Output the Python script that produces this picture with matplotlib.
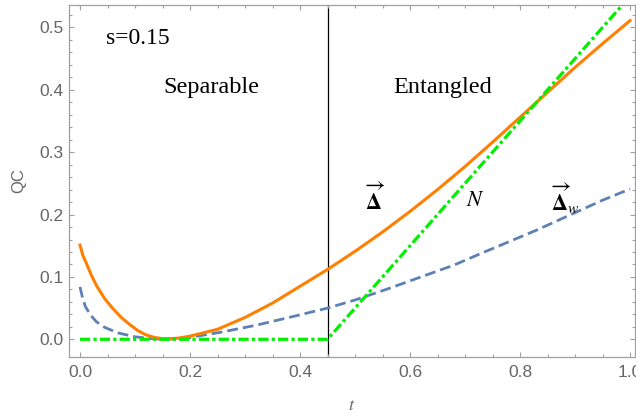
import matplotlib
matplotlib.use("Agg")
import matplotlib.pyplot as plt

# --- data (s = 0.15) ---
t_disc = [0.0, 0.005, 0.012, 0.02, 0.03, 0.045, 0.06, 0.075, 0.09, 0.105, 0.12, 0.135,
          0.15, 0.165, 0.18, 0.20, 0.25, 0.30, 0.35, 0.40, 0.45, 0.50, 0.55, 0.60,
          0.65, 0.70, 0.75, 0.80, 0.85, 0.90, 0.95, 1.0]
disc = [0.151, 0.135, 0.121, 0.104, 0.086, 0.065, 0.049, 0.035, 0.024, 0.014, 0.007, 0.003,
        0.001, 0.001, 0.002, 0.005, 0.016, 0.035, 0.058, 0.085, 0.112, 0.141, 0.172, 0.205,
        0.240, 0.277, 0.316, 0.356, 0.396, 0.436, 0.474, 0.511]

t_discw = [0.0, 0.005, 0.01, 0.02, 0.03, 0.045, 0.07, 0.10, 0.13, 0.15, 0.18, 0.20,
           0.26, 0.32, 0.38, 0.45, 0.50, 0.56, 0.62, 0.68, 0.73, 0.83, 0.89, 0.95, 1.0]
discw = [0.084, 0.065, 0.052, 0.038, 0.028, 0.019, 0.010, 0.004, 0.001, 0.0, 0.001, 0.003,
         0.012, 0.0225, 0.035, 0.050, 0.063, 0.081, 0.100, 0.119, 0.138, 0.175, 0.199, 0.223, 0.241]

t_neg = [0.0, 0.45, 1.0]
neg = [0.0, 0.0, 0.55]

t_border = 0.45

plt.rcParams['mathtext.fontset'] = 'stix'

fig = plt.figure(figsize=(6.36, 4.18), dpi=100)
ax = fig.add_axes([69 / 636, 61 / 418, 566 / 636, 352 / 418])

ax.plot(t_disc, disc, color='#ff7f00', lw=2.2, zorder=3)
ax.plot(t_discw, discw, color='#5e81b5', lw=2.0, dashes=(3.9, 1.8), zorder=2)
ax.plot(t_neg, neg, color='#00f000', lw=2.3, dashes=(3.2, 1, 1, 1), zorder=4)
ax.axvline(t_border, color='black', lw=0.9, zorder=1)

ax.set_xlim(-0.02, 1.009)
ax.set_ylim(-0.0284, 0.536)

ax.set_xticks([0.0, 0.2, 0.4, 0.6, 0.8, 1.0])
ax.set_xticks([i * 0.05 for i in range(21)], minor=True)
ax.set_yticks([0.0, 0.1, 0.2, 0.3, 0.4, 0.5])
ax.set_yticks([i * 0.02 for i in range(27)], minor=True)
ax.set_xticklabels(['0.0', '0.2', '0.4', '0.6', '0.8', '1.0'])
ax.set_yticklabels(['0.0', '0.1', '0.2', '0.3', '0.4', '0.5'])

frame = '#a0a0a0'
for sp in ax.spines.values():
    sp.set_color(frame)
    sp.set_linewidth(0.9)
ax.tick_params(which='both', direction='in', top=True, right=True, color=frame, width=0.8,
               labelcolor='#666666', labelsize=12.5, labelfontfamily='Liberation Sans')
ax.tick_params(which='major', length=3.6)
ax.tick_params(which='minor', length=2.2)
ax.tick_params(axis='x', pad=6)
ax.tick_params(axis='y', pad=4)

ax.set_ylabel('QC', color='#666666', fontsize=12, family='Liberation Sans', labelpad=9)
ax.set_xlabel('$t$', color='#666666', fontsize=13, labelpad=11)

serif = 'Liberation Serif'
ax.text(0.047, 0.483, 's=0.15', fontsize=17, family=serif, va='center', ha='left')
ax.text(0.238, 0.403, 'Separable', fontsize=17.5, family=serif, va='center', ha='center')
ax.text(0.659, 0.403, 'Entangled', fontsize=17.5, family=serif, va='center', ha='center')
ax.text(0.537, 0.226, r'$\overrightarrow{\mathbf{\Delta}}$', fontsize=16, va='center', ha='center')
ax.text(0.718, 0.224, r'$N$', fontsize=16, va='center', ha='center')
ax.text(0.882, 0.226, r'$\overrightarrow{\mathbf{\Delta}}_w$', fontsize=16, va='center', ha='center')

fig.savefig('out.png', dpi=100)
